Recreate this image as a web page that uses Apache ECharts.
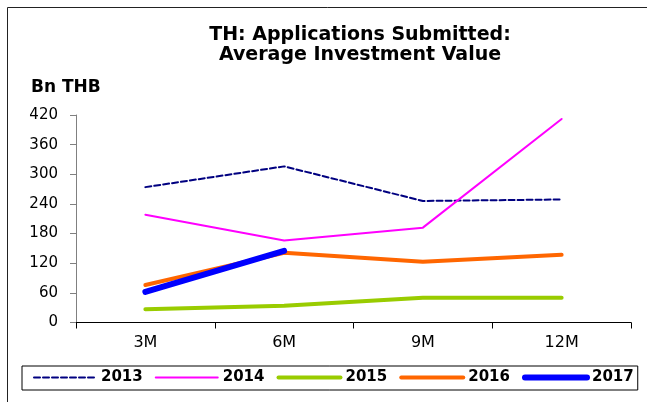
<!DOCTYPE html>
<html>
<head>
<meta charset="utf-8">
<script src="https://cdn.jsdelivr.net/npm/echarts@6/dist/echarts.min.js"></script>
<style>
  html, body { margin: 0; padding: 0; background: #fff; }
  #chart { width: 647px; height: 402px; }
</style>
</head>
<body>
<div id="chart"></div>
<script>
// Average investment value of submitted applications, Bn THB
const periods = ['3M', '6M', '9M', '12M'];
const yTicks = [0, 60, 120, 180, 240, 300, 360, 420];
const v2013 = [274, 316, 246, 249];
const v2014 = [218, 166, 192, 412];
const v2015 = [27, 34, 50, 50];
const v2016 = [76, 141, 123, 137];
const v2017 = [62, 145];

const FONT = 'DejaVu Sans';

const styles = {
  '2013': { color: '#000080', width: 2, type: [6, 3] },
  '2014': { color: '#ff00ff', width: 2, type: 'solid' },
  '2015': { color: '#99cc00', width: 4, type: 'solid' },
  '2016': { color: '#ff6600', width: 4, type: 'solid' },
  '2017': { color: '#0000ff', width: 6, type: 'solid' }
};
const seriesData = { '2013': v2013, '2014': v2014, '2015': v2015, '2016': v2016, '2017': v2017 };

const names = Object.keys(seriesData);

const chart = echarts.init(document.getElementById('chart'), null, { renderer: 'canvas' });
chart.setOption({
  backgroundColor: '#ffffff',
  animation: false,
  graphic: [
    {
      type: 'rect', left: 5, top: 5, silent: true,
      shape: { width: 700, height: 500 },
      style: { fill: 'none', stroke: '#222', lineWidth: 1 }
    },
    {
      type: 'text', left: 31, top: 79,
      style: { text: 'Bn THB', font: 'bold 17px "' + FONT + '"', fill: '#000' }
    }
  ],
  title: {
    text: 'TH: Applications Submitted:\nAverage Investment Value',
    left: 355, top: 20, textAlign: 'center',
    textStyle: { fontFamily: FONT, fontWeight: 'bold', fontSize: 19, color: '#000', lineHeight: 20 }
  },
  legend: {
    orient: 'horizontal',
    left: 22, top: 366,
    padding: [4, 4, 5, 11],
    borderColor: '#000', borderWidth: 1,
    itemWidth: 62, itemHeight: 14, itemGap: 12,
    textStyle: { fontFamily: FONT, fontWeight: 'bold', fontSize: 15, color: '#000' },
    data: names.map(n => ({
      name: n,
      itemStyle: { opacity: 0 },
      lineStyle: { color: styles[n].color, width: styles[n].width, type: styles[n].type, cap: 'round' }
    }))
  },
  grid: { left: 76, right: 16, top: 115, bottom: 79.5, containLabel: false },
  xAxis: {
    type: 'category',
    data: periods,
    boundaryGap: true,
    axisLine: { show: true, lineStyle: { color: '#000', width: 1 } },
    axisTick: { show: true, length: 6, alignWithLabel: false, lineStyle: { color: '#000' } },
    axisLabel: { fontFamily: FONT, fontSize: 16, color: '#000', margin: 12 },
    splitLine: { show: false }
  },
  yAxis: {
    type: 'value',
    min: yTicks[0], max: yTicks[yTicks.length - 1], interval: 60,
    axisLine: { show: true, lineStyle: { color: '#808080', width: 1 } },
    axisTick: { show: true, length: 6, lineStyle: { color: '#808080' } },
    axisLabel: { fontFamily: FONT, fontSize: 15, color: '#000', margin: 18 },
    splitLine: { show: false }
  },
  series: names.map(n => ({
    name: n,
    type: 'line',
    data: seriesData[n],
    symbol: 'none',
    z: n === '2017' ? 5 : 2,
    lineStyle: { color: styles[n].color, width: styles[n].width, type: styles[n].type, cap: 'round', join: 'round' },
    itemStyle: { color: styles[n].color }
  }))
});
</script>
</body>
</html>
